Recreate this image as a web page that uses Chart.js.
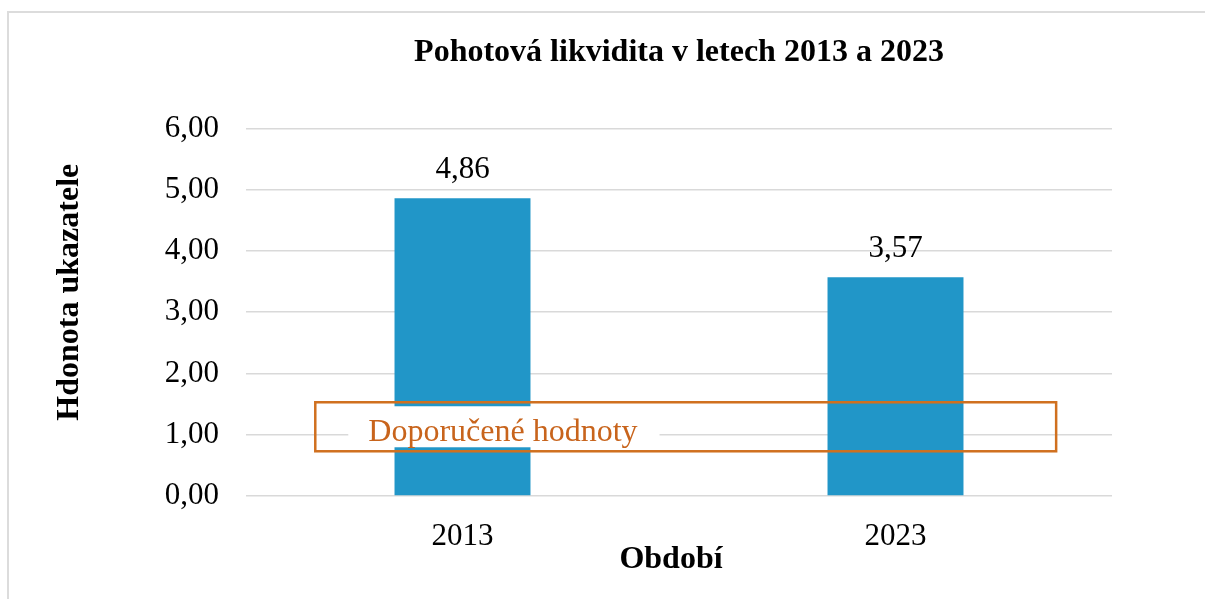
<!DOCTYPE html>
<html>
<head>
<meta charset="utf-8">
<script src="https://cdn.jsdelivr.net/npm/chart.js@4/dist/chart.umd.min.js"></script>
<style>
  html, body { margin: 0; padding: 0; background: #fff; overflow: hidden; }
  #wrap { position: absolute; left: 0; top: 0; width: 1205px; height: 599px; }
  #frame { position: absolute; left: 7px; top: 11px; width: 1300px; height: 700px;
           border-top: 2px solid #dcdcdc; border-left: 2px solid #dcdcdc; pointer-events: none; }
  canvas { position: absolute; left: 0; top: 0; }
</style>
</head>
<body>
<div id="wrap">
  <canvas id="c" width="1205" height="599"></canvas>
  <div id="frame"></div>
</div>
<script>
// ---- data ----
const categories = ['2013', '2023'];
const values = [4.86, 3.57];
const yTicks = [0, 1, 2, 3, 4, 5, 6];
const chartTitle = 'Pohotová likvidita v letech 2013 a 2023';
const xTitle = 'Období';
const yTitle = 'Hdonota ukazatele';
// recommended-values box (y range in value units, x range in category units)
const recommendedLabel = 'Doporučené hodnoty';
const recommendedY = [0.73, 1.53];
const recommendedX = [-0.34, 1.371];

const SERIF = '"Liberation Serif", "Times New Roman", serif';
const fmt = v => v.toFixed(2).replace('.', ',');

const overlayPlugin = {
  id: 'overlay',
  afterDatasetsDraw(chart) {
    const ctx = chart.ctx;
    const xs = chart.scales.x, ys = chart.scales.y;
    // data labels
    const meta = chart.getDatasetMeta(0);
    ctx.save();
    ctx.font = '31px ' + SERIF;
    ctx.fillStyle = '#000';
    ctx.textAlign = 'center';
    ctx.textBaseline = 'alphabetic';
    meta.data.forEach((bar, i) => {
      ctx.fillText(fmt(values[i]), bar.x, bar.y - 20);
    });
    // recommended box
    const x0 = xs.getPixelForValue(recommendedX[0]);
    const x1 = xs.getPixelForValue(recommendedX[1]);
    const y0 = ys.getPixelForValue(recommendedY[1]);
    const y1 = ys.getPixelForValue(recommendedY[0]);
    ctx.font = '32px ' + SERIF;
    const tw = ctx.measureText(recommendedLabel).width;
    const tx = x0 + 53;
    const ty = ys.getPixelForValue(1) + 6;
    ctx.fillStyle = '#fff';
    ctx.fillRect(tx - 20, y0 + 4, tw + 42, (y1 - y0) - 8);
    ctx.strokeStyle = '#d0701f';
    ctx.lineWidth = 2.5;
    ctx.strokeRect(x0, y0, x1 - x0, y1 - y0);
    ctx.fillStyle = '#c8641c';
    ctx.textAlign = 'left';
    ctx.fillText(recommendedLabel, tx, ty);
    ctx.restore();
  }
};

new Chart(document.getElementById('c'), {
  type: 'bar',
  data: {
    labels: categories,
    datasets: [{
      data: values,
      backgroundColor: '#2196c8',
      borderWidth: 0,
      barPercentage: 1,
      categoryPercentage: 0.314
    }]
  },
  options: {
    responsive: false,
    animation: false,
    events: [],
    layout: { padding: { left: 0, right: 93, top: 0, bottom: 0 } },
    plugins: {
      legend: { display: false },
      tooltip: { enabled: false },
      title: {
        display: true,
        fullSize: false,
        text: chartTitle,
        color: '#000',
        font: { family: SERIF, size: 32, weight: 'bold' },
        padding: { top: 34, bottom: 56 }
      }
    },
    scales: {
      x: {
        grid: { display: false, drawTicks: false },
        border: { display: false },
        ticks: { color: '#000', font: { family: SERIF, size: 31 }, padding: 22 },
        title: {
          display: true, text: xTitle + '  ', color: '#000',
          font: { family: SERIF, size: 32, weight: 'bold' },
          padding: { top: 0, bottom: 20 }
        },
        afterFit(scale) { scale.height = 103; }
      },
      y: {
        min: 0, max: 6,
        afterBuildTicks(scale) { scale.ticks = yTicks.map(v => ({ value: v })); },
        grid: { color: '#d9d9d9', lineWidth: 1.5, drawTicks: false },
        border: { display: false },
        ticks: { color: '#000', font: { family: SERIF, size: 31 }, padding: 27, callback: v => fmt(v) },
        title: {
          display: true, text: '     ' + yTitle, color: '#000',
          font: { family: SERIF, size: 32, weight: 'bold' },
          padding: { top: 51, bottom: 0 }
        },
        afterFit(scale) { scale.width = 246; }
      }
    }
  },
  plugins: [overlayPlugin]
});
</script>
</body>
</html>
